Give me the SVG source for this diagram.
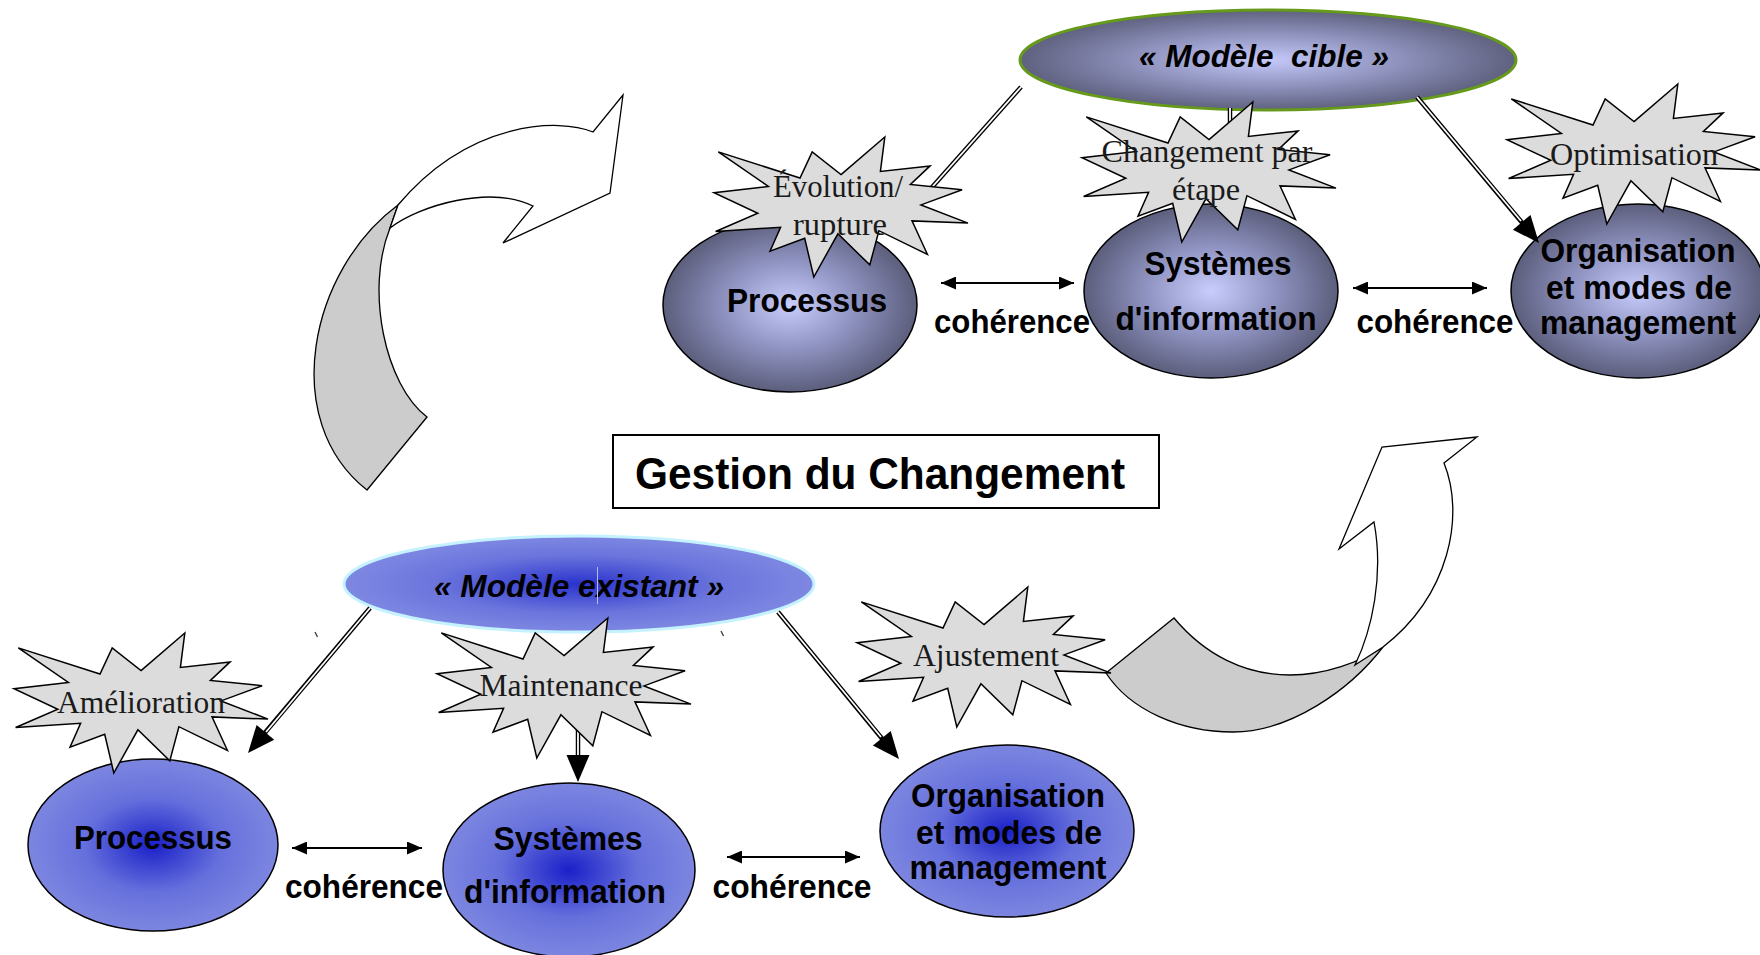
<svg xmlns="http://www.w3.org/2000/svg" xmlns:xlink="http://www.w3.org/1999/xlink" width="1760" height="955" viewBox="0 0 1760 955">
<defs>
<style>
.lbl{font-family:"Liberation Sans",Arial,sans-serif;font-weight:bold;font-size:34px;fill:#000;text-anchor:middle}
.st{font-family:"Liberation Serif","Times New Roman",serif;font-size:31px;fill:#1a1a1a;text-anchor:middle}
.mdl{font-family:"Liberation Sans",Arial,sans-serif;font-weight:bold;font-style:italic;font-size:31px;fill:#000;text-anchor:middle}
.ntop{stroke:#000;stroke-width:1.5;fill:url(#gTop)}
.nbot{stroke:#000;stroke-width:1.5;fill:url(#gBot)}
.star{fill:#dcdcdc;stroke:#000;stroke-width:1.5;stroke-linejoin:miter}
.dbo{stroke:#000;stroke-width:4.5;fill:none}
.dbi{stroke:#fff;stroke-width:1.8;fill:none}
.head{fill:#000;stroke:none}
.coh{stroke:#000;stroke-width:2;fill:none;marker-start:url(#ah);marker-end:url(#ah)}
.carw{fill:#fff;stroke:#000;stroke-width:1.3;stroke-linejoin:miter}
.carg{fill:#cccccc;stroke:#000;stroke-width:1.3}
</style>
<radialGradient id="gTop" cx="50%" cy="50%" r="50%">
<stop offset="0" stop-color="#c8cdfd"/>
<stop offset="0.5" stop-color="#9094c2"/>
<stop offset="1" stop-color="#5c5e7c"/>
</radialGradient>
<radialGradient id="gCible" cx="50%" cy="50%" r="50%">
<stop offset="0" stop-color="#c4c9fa"/>
<stop offset="0.55" stop-color="#8c90ba"/>
<stop offset="1" stop-color="#5f617f"/>
</radialGradient>
<radialGradient id="gBot" cx="50%" cy="50%" r="50%">
<stop offset="0" stop-color="#1a20c8"/>
<stop offset="0.55" stop-color="#6670dc"/>
<stop offset="1" stop-color="#7c86e0"/>
</radialGradient>
<radialGradient id="gExist" cx="50%" cy="50%" r="50%">
<stop offset="0" stop-color="#2a33cc"/>
<stop offset="0.6" stop-color="#6a74dc"/>
<stop offset="1" stop-color="#7e88e2"/>
</radialGradient>
<marker id="ah" viewBox="0 0 15 13" refX="15" refY="6.5" markerWidth="15" markerHeight="13" markerUnits="userSpaceOnUse" orient="auto-start-reverse">
<path d="M0,0 L15,6.5 L0,13 Z" fill="#000"/>
</marker>
<path id="star" class="star" d="M127,37.6 L170.8,0 L166.4,34.5 L216.1,28.9 L196.4,47.4 L248.1,52.7 L207,67.9 L254,86.1 L198,83.9 L213.4,117.3 L164.9,93.7 L155.8,127.9 L123.9,96.8 L99.8,140 L90.7,101.3 L56,114.2 L66.6,90.3 L1.6,94.5 L43.8,76.3 L0,55.8 L54.4,49.4 L4.3,14.9 L86,41 L98.2,14.9 Z"/>
</defs>
<rect width="1760" height="955" fill="#fff"/>

<g id="curved-arrow-left">
<path class="carg" d="M398,205 C310,270 278,420 367,490 L427,417 C385,385 365,290 390,228 Z"/>
<path class="carw" d="M390,228 C420,205 490,185 533,206 L503,243 L610,193 L623,95 L593,132 C560,118 470,120 398,205 Z"/>
</g>
<g id="curved-arrow-right">
<path class="carg" d="M1106,673 L1174,618 C1205,655 1245,675 1290,675 C1325,675 1360,662 1383,647 C1350,690 1290,732 1233,732 C1180,732 1130,710 1106,673 Z"/>
<path class="carw" d="M1355,665 C1372,630 1384,575 1374,522 L1339,549 L1382,447 L1477,437 L1444,463 C1465,515 1450,595 1383,647 Z"/>
</g>

<g id="title">
<rect x="613" y="435" width="546" height="73" fill="#fff" stroke="#000" stroke-width="2"/>
<text class="lbl" x="880" y="489" style="font-size:45px" textLength="490" lengthAdjust="spacingAndGlyphs">Gestion du Changement</text>
</g>

<g id="modele-cible">
<ellipse cx="1268" cy="60" rx="248" ry="50" fill="url(#gCible)" stroke="#669a1a" stroke-width="3"/>
<text class="mdl" x="1264" y="67" xml:space="preserve" textLength="250" lengthAdjust="spacingAndGlyphs">« Modèle  cible »</text>
</g>
<g id="processus-cible">
<ellipse class="ntop" cx="790" cy="305" rx="127" ry="87"/>
<text class="lbl" x="807" y="312" textLength="160" lengthAdjust="spacingAndGlyphs">Processus</text>
</g>
<g id="si-cible">
<ellipse class="ntop" cx="1211" cy="291" rx="127" ry="87"/>
<text class="lbl" x="1218" y="275" textLength="147" lengthAdjust="spacingAndGlyphs">Systèmes</text>
<text class="lbl" x="1216" y="330" textLength="201" lengthAdjust="spacingAndGlyphs">d'information</text>
</g>
<g id="organisation-cible">
<ellipse class="ntop" cx="1638" cy="291" rx="127" ry="87"/>
<text class="lbl" x="1638" y="262" textLength="195" lengthAdjust="spacingAndGlyphs">Organisation</text>
<text class="lbl" x="1639" y="299" textLength="186" lengthAdjust="spacingAndGlyphs">et modes de</text>
<text class="lbl" x="1638" y="334" textLength="196" lengthAdjust="spacingAndGlyphs">management</text>
</g>

<g id="modele-existant">
<ellipse cx="579" cy="584" rx="235" ry="48" fill="url(#gExist)" stroke="#c4f2ff" stroke-width="3"/>
<text class="mdl" x="579" y="597" textLength="290" lengthAdjust="spacingAndGlyphs">« Modèle existant »</text>
<line x1="597.5" y1="567" x2="597.5" y2="604" stroke="#b8bce8" stroke-width="1"/>
</g>
<g id="processus-existant">
<ellipse class="nbot" cx="153" cy="845" rx="125" ry="86"/>
<text class="lbl" x="153" y="849" textLength="158" lengthAdjust="spacingAndGlyphs">Processus</text>
</g>
<g id="si-existant">
<ellipse class="nbot" cx="569" cy="870" rx="126" ry="87"/>
<text class="lbl" x="568" y="850" textLength="149" lengthAdjust="spacingAndGlyphs">Systèmes</text>
<text class="lbl" x="565" y="903" textLength="202" lengthAdjust="spacingAndGlyphs">d'information</text>
</g>
<g id="organisation-existant">
<ellipse class="nbot" cx="1007" cy="831" rx="127" ry="86"/>
<text class="lbl" x="1008" y="807" textLength="194" lengthAdjust="spacingAndGlyphs">Organisation</text>
<text class="lbl" x="1009" y="844" textLength="186" lengthAdjust="spacingAndGlyphs">et modes de</text>
<text class="lbl" x="1008" y="879" textLength="197" lengthAdjust="spacingAndGlyphs">management</text>
</g>

<g id="connectors">
<line class="dbo" x1="1021" y1="87" x2="926" y2="194"/>
<line class="dbi" x1="1021" y1="87" x2="926" y2="194"/>
<line class="dbo" x1="1230" y1="108" x2="1230" y2="190"/>
<line class="dbi" x1="1230" y1="108" x2="1230" y2="190"/>
<line class="dbo" x1="1417" y1="97" x2="1524" y2="225"/>
<line class="dbi" x1="1417" y1="97" x2="1521" y2="221"/>
<polygon class="head" points="1539,243 1530.5,214.9 1512.9,229.7"/>
<line class="dbo" x1="370" y1="608" x2="263" y2="735"/>
<line class="dbi" x1="370" y1="608" x2="266" y2="732"/>
<polygon class="head" points="248,753 274.2,739.7 256.6,724.9"/>
<line class="dbo" x1="578" y1="700" x2="578" y2="758"/>
<line class="dbi" x1="578" y1="700" x2="578" y2="755"/>
<polygon class="head" points="578,782 566.5,755 589.5,755"/>
<line class="dbo" x1="778" y1="612" x2="884" y2="741"/>
<line class="dbi" x1="778" y1="612" x2="881" y2="737"/>
<polygon class="head" points="899,759 890.7,730.9 872.9,745.5"/>
<line class="coh" x1="941" y1="283" x2="1074" y2="283"/>
<line class="coh" x1="1353" y1="288" x2="1487" y2="288"/>
<line class="coh" x1="292" y1="848" x2="422" y2="848"/>
<line class="coh" x1="727" y1="857" x2="860" y2="857"/>
<line x1="315" y1="632" x2="317.5" y2="637" stroke="#333" stroke-width="1.2"/>
<line x1="721" y1="631" x2="723.5" y2="636" stroke="#333" stroke-width="1.2"/>
</g>

<g id="coherence-labels">
<text class="lbl" x="1012" y="333" textLength="156" lengthAdjust="spacingAndGlyphs">cohérence</text>
<text class="lbl" x="1435" y="333" textLength="157" lengthAdjust="spacingAndGlyphs">cohérence</text>
<text class="lbl" x="364" y="898" textLength="158" lengthAdjust="spacingAndGlyphs">cohérence</text>
<text class="lbl" x="792" y="898" textLength="159" lengthAdjust="spacingAndGlyphs">cohérence</text>
</g>

<g id="star-evolution">
<use xlink:href="#star" x="714" y="137"/>
<text class="st" x="838" y="197" textLength="130" lengthAdjust="spacingAndGlyphs">Évolution/</text>
<text class="st" x="840" y="235" textLength="94" lengthAdjust="spacingAndGlyphs">rupture</text>
</g>
<g id="star-changement">
<use xlink:href="#star" x="1082" y="102"/>
<text class="st" x="1207" y="162" textLength="211" lengthAdjust="spacingAndGlyphs">Changement par</text>
<text class="st" x="1206" y="200" textLength="68" lengthAdjust="spacingAndGlyphs">étape</text>
</g>
<g id="star-optimisation">
<use xlink:href="#star" x="1507" y="84"/>
<text class="st" x="1634" y="165" textLength="168" lengthAdjust="spacingAndGlyphs">Optimisation</text>
</g>
<g id="star-amelioration">
<use xlink:href="#star" x="14" y="633"/>
<text class="st" x="141" y="713" textLength="168" lengthAdjust="spacingAndGlyphs">Amélioration</text>
</g>
<g id="star-maintenance">
<use xlink:href="#star" x="437" y="618"/>
<text class="st" x="561" y="696" textLength="163" lengthAdjust="spacingAndGlyphs">Maintenance</text>
</g>
<g id="star-ajustement">
<use xlink:href="#star" x="857" y="587"/>
<text class="st" x="986" y="666" textLength="146" lengthAdjust="spacingAndGlyphs">Ajustement</text>
</g>
</svg>
